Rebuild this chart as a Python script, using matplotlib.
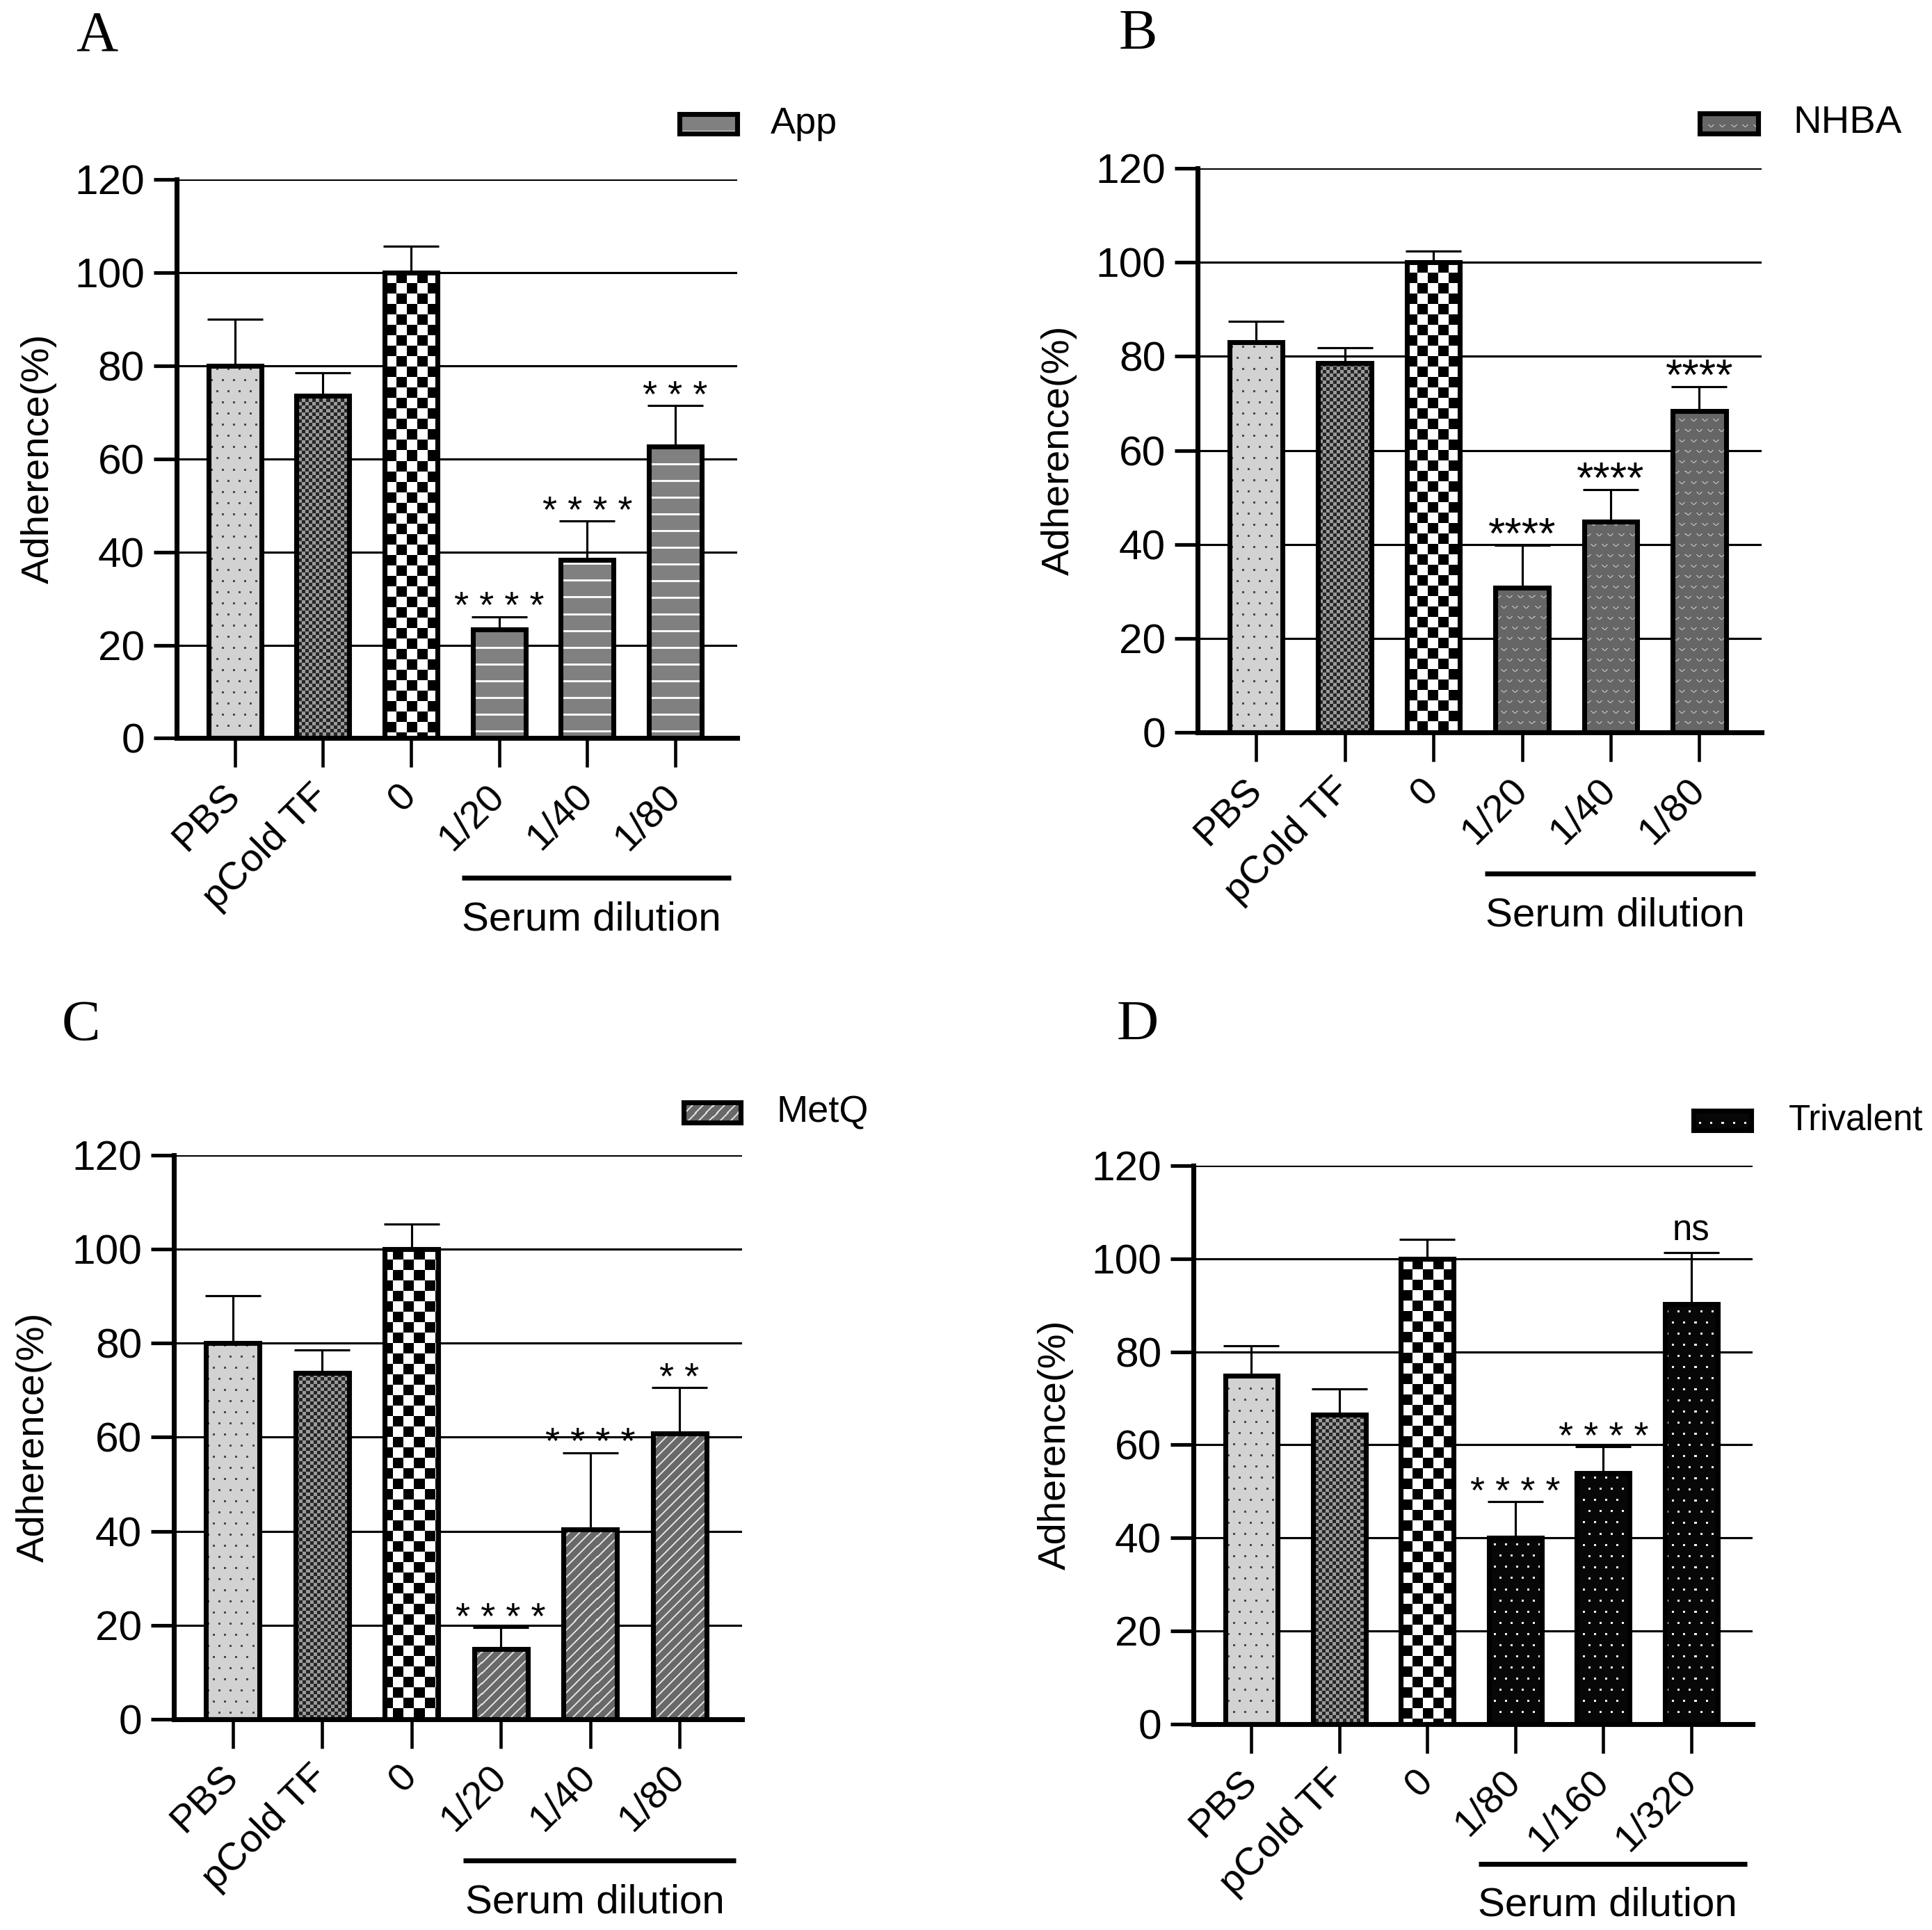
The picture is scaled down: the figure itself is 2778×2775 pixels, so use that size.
import numpy as np
import matplotlib
matplotlib.use('Agg')
import matplotlib.pyplot as plt
from matplotlib import font_manager

# ---- data ----
labels_abc = ['PBS', 'pCold TF', '0', '1/20', '1/40', '1/80']
labels_d = ['PBS', 'pCold TF', '0', '1/80', '1/160', '1/320']

app_mean = [80.0, 73.6, 100.0, 23.4, 38.3, 62.7]
app_sd = [10.0, 4.9, 5.6, 2.7, 8.3, 8.7]
app_sig = ['', '', '', '* * * *', '* * * *', '* * *']

nhba_mean = [83.0, 78.5, 100.0, 30.8, 44.8, 68.3]
nhba_sd = [4.5, 3.3, 2.4, 9.0, 6.9, 5.2]
nhba_sig = ['', '', '', '****', '****', '****']

metq_mean = [80.0, 73.6, 100.0, 14.9, 40.4, 60.8]
metq_sd = [10.1, 5.0, 5.4, 4.6, 16.3, 9.7]
metq_sig = ['', '', '', '* * * *', '* * * *', '* *']

tri_mean = [74.9, 66.5, 100.0, 40.1, 54.0, 90.2]
tri_sd = [6.3, 5.5, 4.1, 7.7, 5.6, 11.1]
tri_sig = ['', '', '', '* * * *', '* * * *', 'ns']

W, H, DPI = 2778, 2775, 150
plt.rcParams['font.family'] = 'Liberation Sans'
names = {f.name for f in font_manager.fontManager.ttflist}
narrow = 'Liberation Sans Narrow' if 'Liberation Sans Narrow' in names else 'Liberation Sans'


def make_pattern(kind, h, w):
    yy, xx = np.mgrid[0:h, 0:w]
    img = np.ones((h, w, 3))
    if kind == 'pbs':
        img[:] = 0xd2 / 255
        row = yy // 16
        m = ((yy % 16) < 3) & (((xx + (row % 2) * 8) % 16) < 3)
        img[m] = 0x4a / 255
    elif kind == 'fine':
        img[:] = 0x9a / 255
        img[((xx // 5 + yy // 5) % 2) == 0] = 0x26 / 255
    elif kind == 'check':
        img[((xx // 15 + yy // 15) % 2) == 0] = 0.0
    elif kind == 'hline':
        img[:] = 0x80 / 255
        img[(yy % 24) < 3] = 0.97
    elif kind == 'chevron':
        img[:] = 0x66 / 255
        row = yy // 15
        cx = (xx + (row % 2) * 8) % 16
        cy = yy % 15
        d = np.abs(cx - 8)
        m = (cy < 4) & ((d == 3 - cy) | (d == 4 - cy))
        img[m] = 0xb4 / 255
    elif kind == 'diag':
        img[:] = 0x69 / 255
        img[((xx + yy) % 15) < 3] = 0xd8 / 255
    elif kind == 'bdots':
        img[:] = 0.03
        row = yy // 16
        m = ((yy % 16) < 3) & (((xx + (row % 2) * 8) % 16) < 3)
        img[m] = 0.95
    return img


panels = [
    dict(letter='A', pos=(0.050, 0.981), rect=[0.0914, 0.6175, 0.2901, 0.2895],
         labels=labels_abc, mean=app_mean, sd=app_sd, sig=app_sig, kind='hline',
         name='App', leg=[0.897, 1.0825, 0.103, 0.035], leg_tx=1.06, leg_fs=26, sig_fs=26),
    dict(letter='B', pos=(0.589, 0.982), rect=[0.6199, 0.6205, 0.2918, 0.2923],
         labels=labels_abc, mean=nhba_mean, sd=nhba_sd, sig=nhba_sig, kind='chevron',
         name='NHBA', leg=[0.890, 1.062, 0.104, 0.035], leg_tx=1.056, leg_fs=27, sig_fs=30),
    dict(letter='C', pos=(0.042, 0.4685), rect=[0.0900, 0.1092, 0.2941, 0.2923],
         labels=labels_abc, mean=metq_mean, sd=metq_sd, sig=metq_sig, kind='diag',
         name='MetQ', leg=[0.897, 1.058, 0.101, 0.035], leg_tx=1.061, leg_fs=26, sig_fs=26),
    dict(letter='D', pos=(0.589, 0.4685), rect=[0.6177, 0.1067, 0.2896, 0.2894],
         labels=labels_d, mean=tri_mean, sd=tri_sd, sig=tri_sig, kind='bdots',
         name='Trivalent', leg=[0.894, 1.063, 0.103, 0.035], leg_tx=1.064, leg_fs=24.5,
         sig_fs=26),
]

fig = plt.figure(figsize=(W / DPI, H / DPI), dpi=DPI)
xmin, xmax = -0.66, 5.70

for p in panels:
    ax = fig.add_axes(p['rect'])
    axw = int(p['rect'][2] * W)
    axh = int(p['rect'][3] * H)
    x = np.arange(len(p['labels']))
    mean = np.array(p['mean'])
    sd = np.array(p['sd'])
    kinds = ['pbs', 'fine', 'check'] + [p['kind']] * 3

    ax.yaxis.grid(True, color='black', lw=1.5)
    ax.set_axisbelow(True)
    bars = ax.bar(x, mean, 0.6, facecolor='none', edgecolor='black', lw=3.4, zorder=3)
    for bar, kind in zip(bars, kinds):
        im = ax.imshow(make_pattern(kind, axh, axw), extent=(xmin, xmax, 0, 120),
                       aspect='auto', interpolation='nearest', zorder=2)
        im.set_clip_path(bar)
    ax.errorbar(x, mean, yerr=[np.zeros(len(x)), sd], fmt='none', ecolor='black',
                elinewidth=1.5, capsize=19, capthick=1.5, zorder=2.5)

    for i, s in enumerate(p['sig']):
        if not s:
            continue
        off = 15 if s == 'ns' else 6
        ax.annotate(s, xy=(i, mean[i] + sd[i]), xytext=(0, off), textcoords='offset points',
                    ha='center', va='center', fontsize=p['sig_fs'] if s != 'ns' else 24.5)

    ax.set_xlim(xmin, xmax)
    ax.set_ylim(0, 120)
    for side in ['top', 'right']:
        ax.spines[side].set_visible(False)
    for side in ['left', 'bottom']:
        ax.spines[side].set_linewidth(3.4)

    ax.set_xticks(x)
    ax.set_xticklabels(p['labels'], rotation=45, ha='right', va='center',
                       rotation_mode='anchor', fontsize=27)
    ax.tick_params(axis='x', length=20, width=2.2, pad=16)
    ax.set_yticks(np.arange(0, 121, 20))
    ax.tick_params(axis='y', length=16, width=2.5, pad=6, labelsize=29)
    for t in ax.get_yticklabels():
        t.set_family(narrow)

    ax.set_ylabel('Adherence(%)', fontsize=27)
    ax.yaxis.set_label_coords(-0.214, 0.5)

    # serum dilution bracket
    ax.plot([2.58, 5.63], [-0.25, -0.25], transform=ax.get_xaxis_transform(),
            color='black', lw=3.4, clip_on=False, solid_capstyle='butt')
    ax.text(4.05, -0.325, 'Serum dilution', transform=ax.get_xaxis_transform(),
            ha='center', va='center', fontsize=28)

    # legend swatch
    lax = ax.inset_axes(p['leg'])
    lw_px = int(p['leg'][2] * axw)
    lh_px = max(int(p['leg'][3] * axh), 4)
    lax.imshow(make_pattern(p['kind'], lh_px, lw_px), aspect='auto', interpolation='nearest')
    lax.set_xticks([])
    lax.set_yticks([])
    for sp in lax.spines.values():
        sp.set_linewidth(3.4)
    ax.text(p['leg_tx'], p['leg'][1] + p['leg'][3] / 2, p['name'], transform=ax.transAxes,
            ha='left', va='center', fontsize=p['leg_fs'])

    fig.text(p['pos'][0], p['pos'][1], p['letter'], family='Liberation Serif',
             fontsize=40, ha='center', va='center')

fig.savefig('out.png', dpi=DPI)
